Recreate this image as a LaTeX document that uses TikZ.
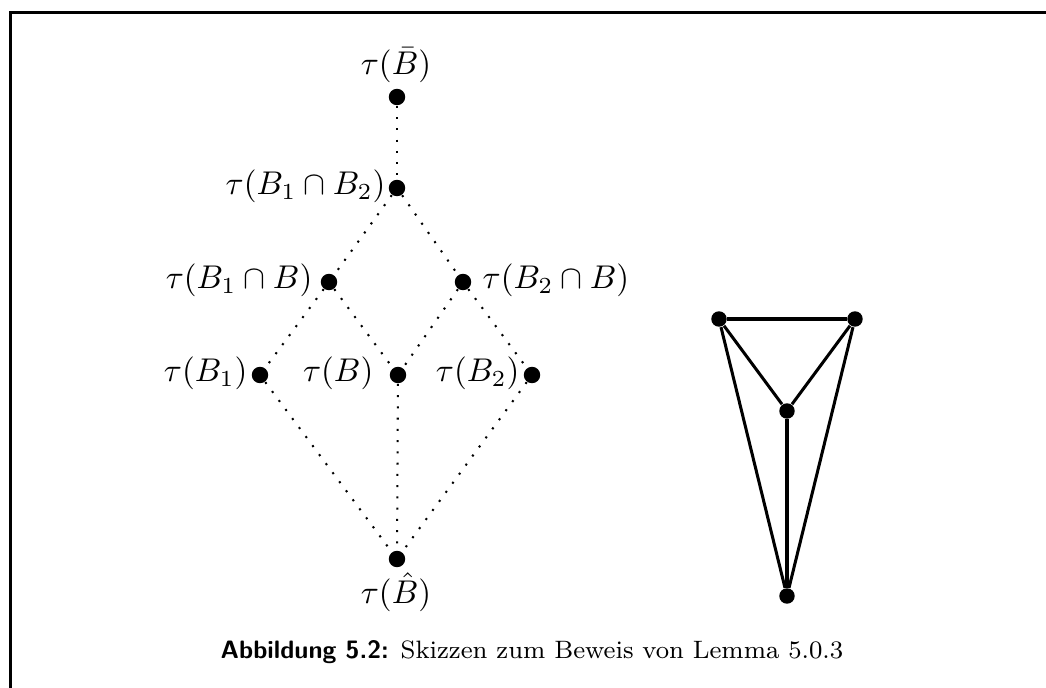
\documentclass[tikz,border=0pt]{standalone}
\begin{document}
\begin{tikzpicture}[x=0.304pt,y=-0.304pt,
  bigdot/.style={circle,fill=black,inner sep=0pt,minimum size=5pt},
  gdot/.style={circle,fill=black,inner sep=0pt,minimum size=4.7pt},
  dotline/.style={line width=0.62pt,dash pattern=on 0.62pt off 2.8pt},
  solidline/.style={line width=0.92pt},
  frameline/.style={line width=0.92pt},
  lbl/.style={inner sep=0pt}]
\useasboundingbox (0,0) rectangle (1046,688);
% frame
\coordinate (fa) at (10.5,688);
\coordinate (fb) at (10.5,12.5);
\coordinate (fc) at (1046,12.5);
\draw[frameline] (fa) -- (fb) -- (fc);
% left lattice
\node[bigdot] (top) at (397,97) {};
\node[lbl] (ltop) at (396,65) {$\tau(\bar B)$};
\node[bigdot] (b12) at (397,188) {};
\node[lbl,anchor=east] (lb12) at (386,186) {$\tau(B_1\cap B_2)$};
\node[bigdot] (b1b) at (329,282) {};
\node[lbl,anchor=east] (lb1b) at (313,280) {$\tau(B_1\cap B)$};
\node[bigdot] (b2b) at (463,282) {};
\node[lbl,anchor=west] (lb2b) at (482,280) {$\tau(B_2\cap B)$};
\node[bigdot] (b1) at (260,375) {};
\node[lbl,anchor=east] (lb1) at (248,373) {$\tau(B_1)$};
\node[bigdot] (bb) at (398,375) {};
\node[lbl,anchor=east] (lbb) at (374,373) {$\tau(B)$};
\node[bigdot] (b2) at (532,375) {};
\node[lbl,anchor=east] (lb2) at (520,373) {$\tau(B_2)$};
\node[bigdot] (bot) at (397,559) {};
\node[lbl] (lbot) at (396,592) {$\tau(\hat B)$};
\draw[dotline] (top) -- (b12);
\draw[dotline] (b12) -- (b1b);
\draw[dotline] (b12) -- (b2b);
\draw[dotline] (b1b) -- (b1);
\draw[dotline] (b1b) -- (bb);
\draw[dotline] (b2b) -- (bb);
\draw[dotline] (b2b) -- (b2);
\draw[dotline] (b1) -- (bot);
\draw[dotline] (bb) -- (bot);
\draw[dotline] (b2) -- (bot);
% right graph
\node[gdot] (tl) at (719,319) {};
\node[gdot] (tr) at (855,319) {};
\node[gdot] (m) at (787,411) {};
\node[gdot] (b) at (787,596) {};
\draw[solidline] (tl) -- (tr);
\draw[solidline] (tl) -- (m);
\draw[solidline] (tr) -- (m);
\draw[solidline] (tl) -- (b);
\draw[solidline] (tr) -- (b);
\draw[solidline] (m) -- (b);
% caption
\node[lbl] (cap) at (532,652) {\fontsize{7.65}{9}\selectfont\textsf{\bfseries Abbildung 5.2:} Skizzen zum Beweis von Lemma 5.0.3};
\end{tikzpicture}
\end{document}
